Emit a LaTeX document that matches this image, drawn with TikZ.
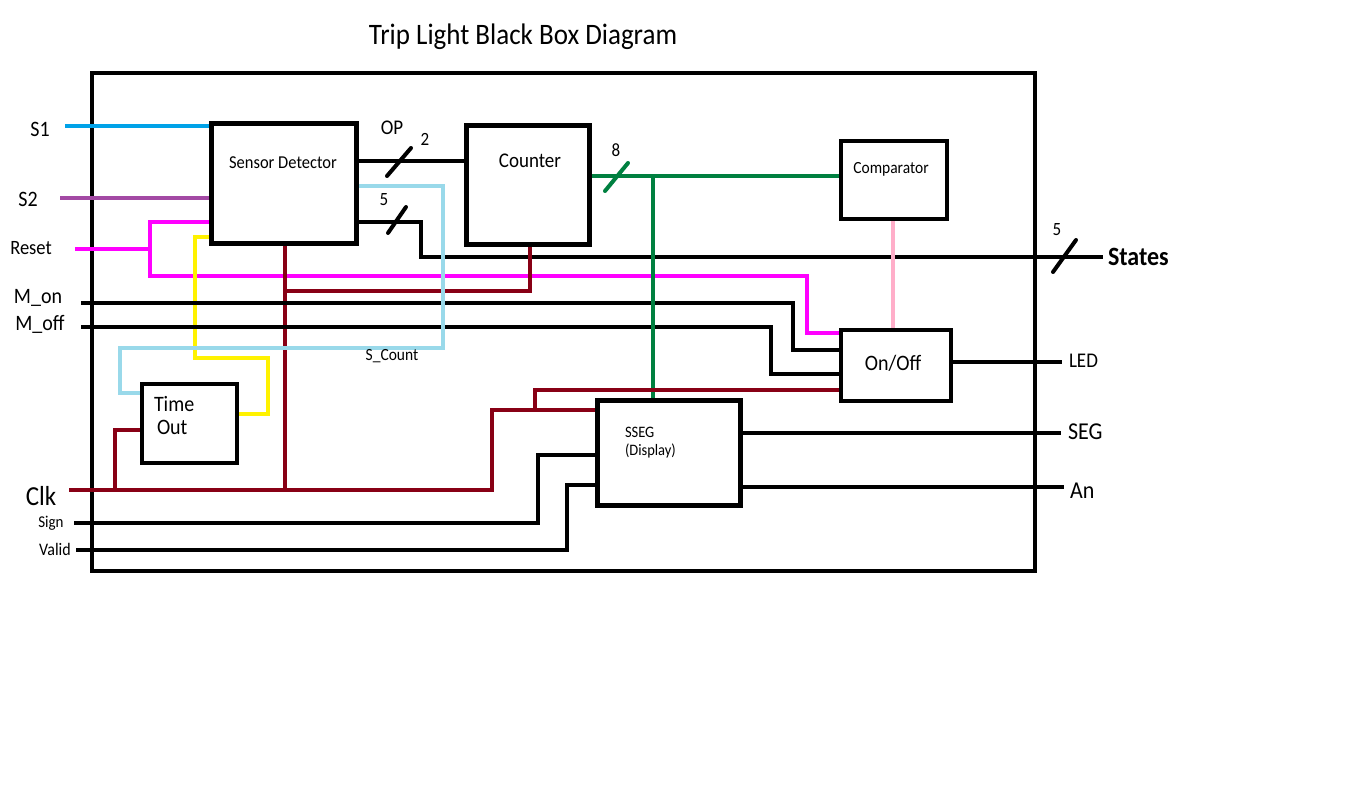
\documentclass[tikz,border=0pt]{standalone}
\usepackage{fontspec}
\setmainfont{Carlito}
\newcommand\fsz[1]{\fontsize{#1}{#1}\selectfont}
\definecolor{sblue}{RGB}{0,162,232}
\definecolor{spurple}{RGB}{163,73,164}
\definecolor{smag}{RGB}{255,0,255}
\definecolor{syellow}{RGB}{255,242,0}
\definecolor{slblue}{RGB}{153,217,234}
\definecolor{sred}{RGB}{136,0,21}
\definecolor{sgreen}{RGB}{0,128,64}
\definecolor{spink}{RGB}{255,174,201}
\begin{document}
\begin{tikzpicture}[x=1pt,y=-1pt,
  wire/.style={line width=4pt, line join=miter},
  blk/.style={draw, fill=white, inner sep=0pt, outer sep=0pt},
  slash/.style={line width=4pt, line cap=round},
  txt/.style={inner sep=0pt, outer sep=0pt, yscale=1.1}]
\useasboundingbox (0,0) rectangle (1359,790);
% outer black box
\node[draw, line width=4pt, inner sep=0pt, minimum width=943pt, minimum height=498pt] (bb) at (563.5,322) {};
\node[txt] (title) at (523,37) {\fsz{27}Trip Light Black Box Diagram};
% input / output end points
\coordinate (s1in) at (65,126);
\coordinate (s2in) at (60,198);
\coordinate (rstin) at (75,249);
\coordinate (monin) at (81,303);
\coordinate (moffin) at (81,327);
\coordinate (clkin) at (69,490);
\coordinate (signin) at (74,523);
\coordinate (validin) at (76,550);
\coordinate (statesout) at (1103,257);
\coordinate (ledout) at (1062,362);
\coordinate (segout) at (1061,433);
\coordinate (anout) at (1064,487);
% block placeholders (drawn later on top)
\path node[blk, draw=none, fill=none, minimum width=145pt, minimum height=120pt] (sd) at (284,183.5) {}
      node[blk, draw=none, fill=none, minimum width=123pt, minimum height=119pt] (cnt) at (527.5,184.5) {}
      node[blk, draw=none, fill=none, minimum width=106pt, minimum height=78pt] (cmp) at (894,180) {}
      node[blk, draw=none, fill=none, minimum width=110pt, minimum height=71pt] (onoff) at (896,365.5) {}
      node[blk, draw=none, fill=none, minimum width=143pt, minimum height=105pt] (sseg) at (669,453) {}
      node[blk, draw=none, fill=none, minimum width=95pt, minimum height=79pt] (to) at (189.5,423.5) {};
% wires
\draw[wire, sblue] (s1in) -- (sd.west |- s1in);
\draw[wire, spurple] (s2in) -- (sd.west |- s2in);
\draw[wire, smag] (sd.west |- 0,222) -- (150,222) -- (150,276) -- (807,276) -- (807,333) -- (onoff.west |- 0,333);
\draw[wire, smag] (rstin) -- (150,249);
\draw[wire, syellow] (sd.west |- 0,237) -- (195,237) -- (195,358) -- (268,358) -- (268,414) -- (to.east |- 0,414);
\draw[wire, black] (sd.east |- 0,161) -- (cnt.west |- 0,161);
\draw[wire, black] (sd.east |- 0,222) -- (421,222) -- (421,257) -- (statesout);
\draw[wire, sred] (sd.south -| 285,0) -- (285,490);
\draw[wire, sred] (cnt.south -| 530,0) -- (530,291) -- (285,291);
\draw[wire, black] (monin) -- (793,303) -- (793,350) -- (onoff.west |- 0,350);
\draw[wire, black] (moffin) -- (771,327) -- (771,374) -- (onoff.west |- 0,374);
\draw[wire, slblue] (sd.east |- 0,186) -- (443,186) -- (443,348) -- (120,348) -- (120,393) -- (to.west |- 0,393);
\draw[wire, sgreen] (cnt.east |- 0,176) -- (cmp.west |- 0,176);
\draw[wire, sgreen] (653,176) -- (sseg.north -| 653,0);
\draw[wire, spink] (cmp.south -| 893,0) -- (onoff.north -| 893,0);
\draw[wire, black] (onoff.east |- ledout) -- (ledout);
\draw[wire, sred] (clkin) -- (492,490) -- (492,410) -- (sseg.west |- 0,410);
\draw[wire, sred] (535,410) -- (535,390) -- (onoff.west |- 0,390);
\draw[wire, sred] (115,490) -- (115,430) -- (to.west |- 0,430);
\draw[wire, black] (signin) -- (538,523) -- (538,455) -- (sseg.west |- 0,455);
\draw[wire, black] (validin) -- (567,550) -- (567,485) -- (sseg.west |- 0,485);
\draw[wire, black] (sseg.east |- segout) -- (segout);
\draw[wire, black] (sseg.east |- anout) -- (anout);
% bus slashes
\draw[slash] (387,176) -- (411,148);
\draw[slash] (388,233) -- (406,207);
\draw[slash, sgreen] (605,191) -- (628,163);
\draw[slash] (1053,272) -- (1076,240);
% blocks
\node[blk, line width=5pt, minimum width=145pt, minimum height=120pt] (sdb) at (sd) {};
\node[blk, line width=5pt, minimum width=123pt, minimum height=119pt] (cntb) at (cnt) {};
\node[blk, line width=4pt, minimum width=106pt, minimum height=78pt] (cmpb) at (cmp) {};
\node[blk, line width=4pt, minimum width=110pt, minimum height=71pt] (onoffb) at (onoff) {};
\node[blk, line width=5pt, minimum width=143pt, minimum height=105pt] (ssegb) at (sseg) {};
\node[blk, line width=4pt, minimum width=95pt, minimum height=79pt] (tob) at (to) {};
% block texts
\node[txt] (sdt) at (283,163) {\fsz{16.5}Sensor Detector};
\node[txt] (cntt) at (530,161) {\fsz{19}Counter};
\node[txt] (cmpt) at (891,169) {\fsz{15.5}Comparator};
\node[txt] (onofft) at (893,363) {\fsz{20}On/Off};
\node[txt, anchor=west] (tot1) at (154,404) {\fsz{20}Time};
\node[txt, anchor=west] (tot2) at (157,427) {\fsz{20}Out};
\node[txt, anchor=west] (ssegt1) at (625,432) {\fsz{14.5}SSEG};
\node[txt, anchor=west] (ssegt2) at (625,451) {\fsz{14.5}(Display)};
% labels
\node[txt] (lop) at (392,128) {\fsz{19}OP};
\node[txt] (l2) at (425,139) {\fsz{17}2};
\node[txt] (l5a) at (384,200) {\fsz{17}5};
\node[txt] (l8) at (616,150) {\fsz{17}8};
\node[txt] (l5b) at (1057,230) {\fsz{17}5};
\node[txt, anchor=west] (lstates) at (1108,257) {\fsz{24}\bfseries States};
\node[txt, anchor=west] (lled) at (1069,361) {\fsz{19}LED};
\node[txt, anchor=west] (lseg) at (1068,432) {\fsz{22}SEG};
\node[txt, anchor=west] (lan) at (1070,491) {\fsz{22}An};
\node[txt] (ls1) at (40,129) {\fsz{20}S1};
\node[txt] (ls2) at (28,199) {\fsz{20}S2};
\node[txt] (lrst) at (31,248) {\fsz{18.5}Reset};
\node[txt] (lmon) at (38,298) {\fsz{20}M\_on};
\node[txt] (lmoff) at (40,324) {\fsz{20}M\_off};
\node[txt] (lclk) at (41,496) {\fsz{25}Clk};
\node[txt] (lsign) at (51,523) {\fsz{15}Sign};
\node[txt] (lvalid) at (55,549) {\fsz{16}Valid};
\node[txt] (lscount) at (392,356) {\fsz{15.5}S\_Count};
\end{tikzpicture}
\end{document}
